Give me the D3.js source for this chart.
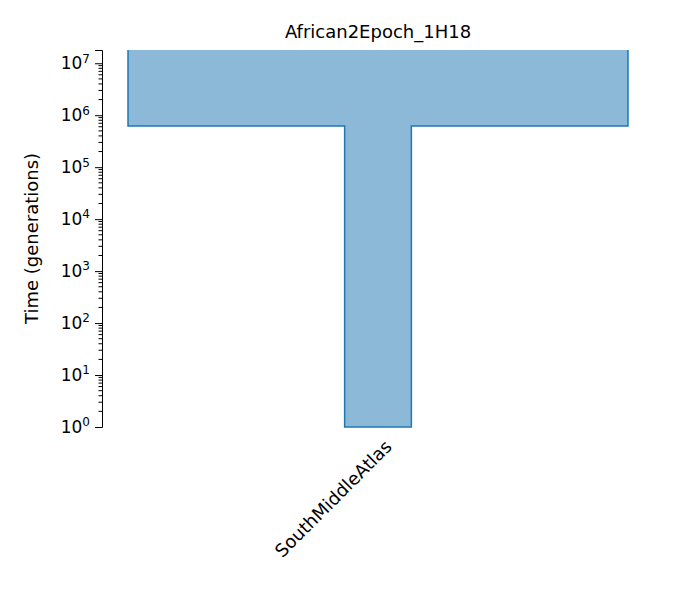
<!DOCTYPE html>
<html><head><meta charset="utf-8">
<script src="https://cdn.jsdelivr.net/npm/d3@7"></script>
<style>body{margin:0;background:#fff}text{font-family:"DejaVu Sans",sans-serif}</style>
</head><body><svg id="c" width="675" height="600"></svg>
<script>
const title = "African2Epoch_1H18";
const demeName = "SouthMiddleAtlas";
// epochs: start time (older), end time, size
const epochStart = [1.8e7, 6.2e5];
const epochEnd = [6.2e5, 1];
const epochSize = [54700, 7300];
const yTicks = [1, 10, 100, 1e3, 1e4, 1e5, 1e6, 1e7];

const svg = d3.select("#c");
const m = {left: 102, right: 47, top: 50, bottom: 173};
const W = 675 - m.left - m.right, H = 600 - m.top - m.bottom;
const g = svg.append("g").attr("transform", `translate(${m.left},${m.top})`);

const y = d3.scaleLog().domain([1, 1.8e7]).range([H, 0]);
const x = d3.scaleLinear().domain([-27350, 27350]).range([26, 526]);
const cx = x(0);

const pts = [];
pts.push([x(-epochSize[0]/2), y(epochStart[0])]);
epochSize.forEach((s, i) => {
  pts.push([x(-s/2), y(epochStart[i])]);
  pts.push([x(-s/2), y(epochEnd[i])]);
});
for (let i = epochSize.length - 1; i >= 0; i--) {
  pts.push([x(epochSize[i]/2), y(epochEnd[i])]);
  pts.push([x(epochSize[i]/2), y(epochStart[i])]);
}
g.append("path").attr("d", d3.line()(pts))
  .attr("fill", "#8db9d8").attr("stroke", "#1f77b4").attr("stroke-width", 1.5);

const ay = g.append("g").call(d3.axisLeft(y).tickValues(yTicks).tickFormat(() => "").tickSizeOuter(0).tickSize(7));
ay.selectAll(".tick").each(function(d) {
  d3.select(this).append("text").attr("x", -12).attr("dy", "0.32em").attr("text-anchor", "end")
    .attr("fill", "#000").style("font-size", "17px")
    .html(`10<tspan dy="-0.55em" style="font-size:12px">${Math.round(Math.log10(d))}</tspan>`);
});
const minor = [];
for (let e = 0; e < 8; e++) for (let k = 2; k < 10; k++) { const v = k * 10 ** e; if (v < 1.8e7) minor.push(v); }
g.append("g").selectAll("line").data(minor).join("line")
  .attr("x1", -3.5).attr("x2", 0).attr("y1", d => y(d)).attr("y2", d => y(d)).attr("stroke", "#000");
ay.select(".domain").attr("stroke", "#000");
ay.selectAll(".tick line").attr("stroke", "#000");

g.append("text").attr("transform", `translate(${-64},${H/2}) rotate(-90)`).attr("text-anchor", "middle")
  .style("font-size", "18px").text("Time (generations)");
g.append("text").attr("x", cx).attr("y", -12).attr("text-anchor", "middle")
  .style("font-size", "18px").text(title);
g.append("text").attr("transform", `translate(${cx + 6},${H + 12}) rotate(-45)`).attr("text-anchor", "end")
  .attr("dy", "0.7em").style("font-size", "18px").text(demeName);
</script></body></html>
